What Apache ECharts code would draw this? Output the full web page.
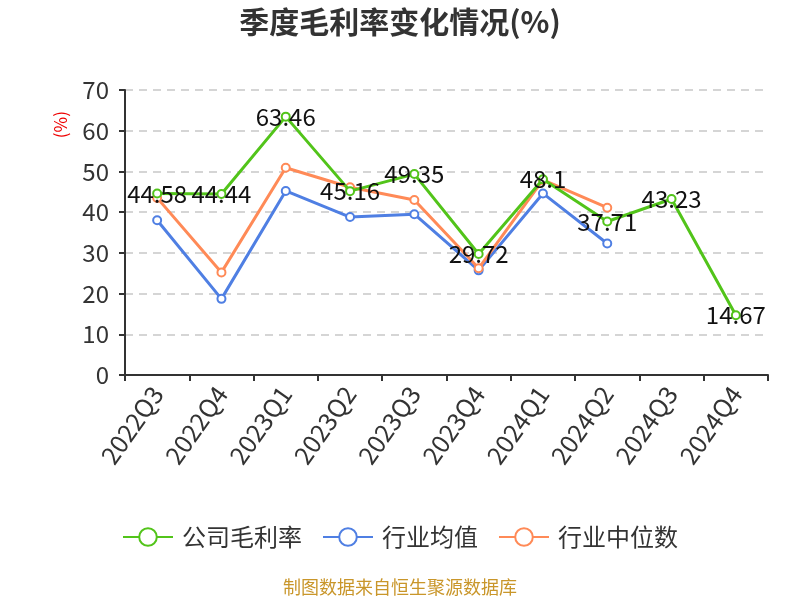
<!DOCTYPE html>
<html><head><meta charset="utf-8">
<script src="https://cdn.jsdelivr.net/npm/echarts@6/dist/echarts.min.js"></script>
<style>html,body{margin:0;padding:0;background:#fff}#c{width:800px;height:600px}</style>
</head><body><div id="c"></div>
<script>
var categories = ['2022Q3','2022Q4','2023Q1','2023Q2','2023Q3','2023Q4','2024Q1','2024Q2','2024Q3','2024Q4'];
var companyMargin = [44.58,44.44,63.46,45.16,49.35,29.72,48.1,37.71,43.23,14.67];
var industryAvg = [38.0,18.7,45.2,38.8,39.5,25.7,44.6,32.3,null,null];
var industryMedian = [43.5,25.2,50.9,46.1,43.0,26.2,47.9,41.1,null,null];
var yTicks = [0,10,20,30,40,50,60,70];

var FONT = '"Noto Sans CJK SC","Noto Sans",sans-serif';
var chart = echarts.init(document.getElementById('c'));
function mk(name, data, color, label) {
  return {
    name: name, type: 'line', data: data,
    symbol: 'emptyCircle', symbolSize: 8,
    lineStyle: {width: 3, color: color},
    itemStyle: {color: color, borderWidth: 2},
    label: label ? {show: true, position: 'inside', color: '#111', fontSize: 24, fontFamily: FONT} : {show: false},
    z: label ? 3 : 2
  };
}
chart.setOption({
  animation: false,
  textStyle: {fontFamily: FONT},
  title: {text: '季度毛利率变化情况(%)', left: 'center', top: 2,
    textStyle: {fontSize: 30, fontWeight: 'bold', color: '#333', fontFamily: FONT}},
  legend: {top: 520, left: 'center', itemWidth: 50, itemHeight: 22, itemGap: 20,
    textStyle: {fontSize: 24, color: '#333', fontFamily: FONT, padding: [0, 0, 0, 4]},
    data: ['公司毛利率','行业均值','行业中位数']},
  grid: {left: 125, right: 32, top: 90, bottom: 225},
  xAxis: {type: 'category', data: categories, boundaryGap: true,
    axisLine: {lineStyle: {color: '#333', width: 2}},
    axisTick: {show: true, length: 6, lineStyle: {width: 2}},
    axisLabel: {rotate: 55, fontSize: 25, color: '#333', margin: 14, fontFamily: FONT}},
  yAxis: {type: 'value', min: yTicks[0], max: yTicks[yTicks.length-1], interval: 10,
    axisLine: {show: true, lineStyle: {color: '#333', width: 2}},
    axisTick: {show: true, length: 6, lineStyle: {width: 2}},
    axisLabel: {fontSize: 24, color: '#333', margin: 16, fontFamily: FONT},
    splitLine: {lineStyle: {type: [8, 6], color: '#c8c8c8', width: 1.5}}},
  graphic: [
    {type: 'text', left: 52, top: 111, rotation: Math.PI/2, style: {text: '(%)', fill: '#e00', fontSize: 17, fontFamily: FONT}},
    {type: 'text', left: 'center', top: 578, style: {text: '制图数据来自恒生聚源数据库', fill: '#C9962A', fontSize: 18, fontFamily: FONT}}
  ],
  series: [
    mk('公司毛利率', companyMargin, '#52C41A', true),
    mk('行业均值', industryAvg, '#4F7FE3', false),
    mk('行业中位数', industryMedian, '#FF8A57', false)
  ]
});
</script></body></html>
